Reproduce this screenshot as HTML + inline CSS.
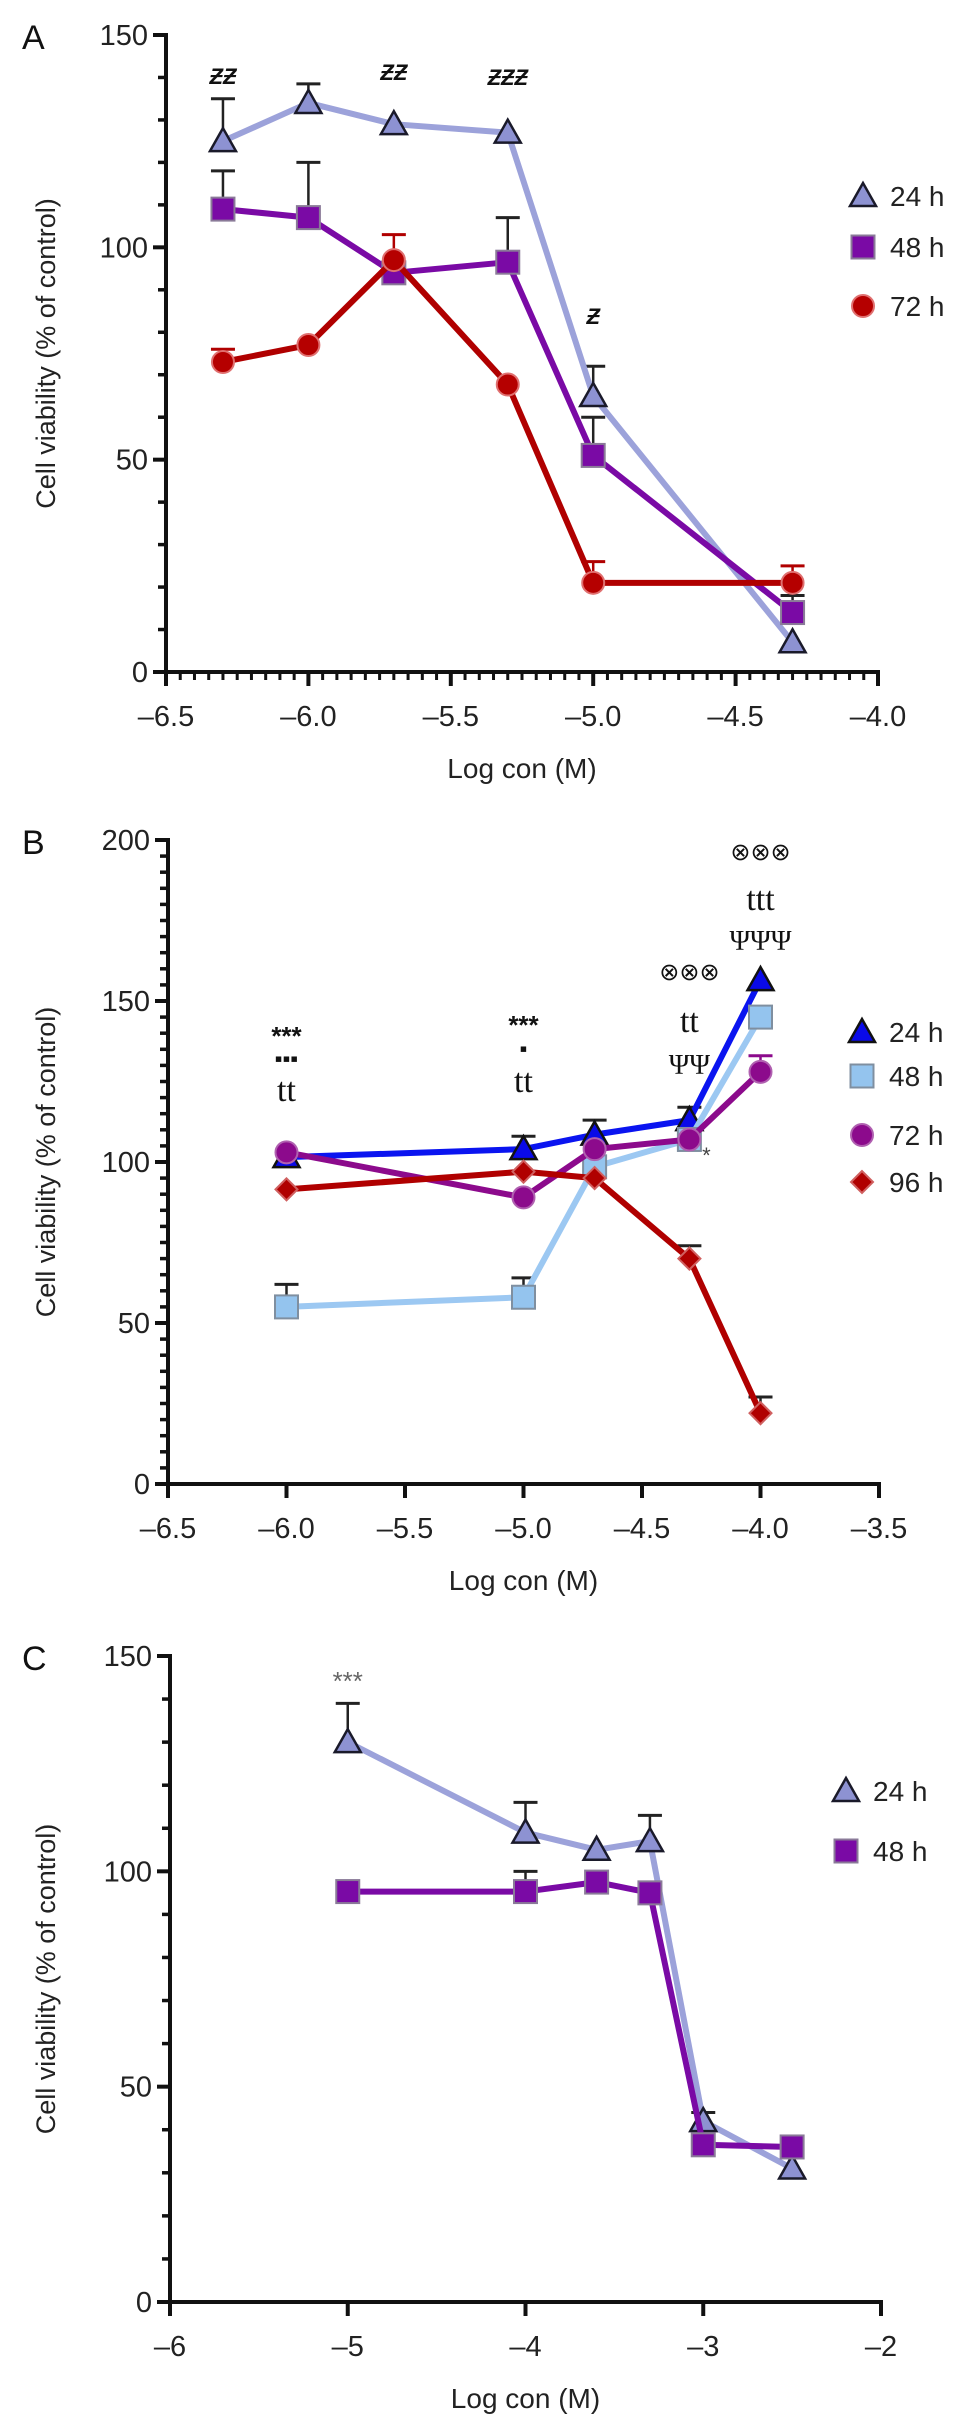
<!DOCTYPE html>
<html><head><meta charset="utf-8"><style>
html,body{margin:0;padding:0;background:#fff;}
svg{display:block;font-family:"Liberation Sans",sans-serif;}
</style></head><body>
<svg id="fig" width="969" height="2427" viewBox="0 0 969 2427" xmlns="http://www.w3.org/2000/svg"></svg>
<script>
// Panel A data
const aX = [-6.3, -6.0, -5.7, -5.3, -5.0, -4.3];
const a24 = [125, 134, 129, 127, 65, 7];
const a24err = [135, 138.5, null, null, 72, null];
const a48 = [109, 107, 94, 96.5, 51, 14];
const a48err = [118, 120, null, 107, 60, 18];
const a72 = [73, 77, 97, 67.7, 21, 21];
const a72err = [76, null, 103, null, 26, 25];
const aXTicks = ["–6.5", "–6.0", "–5.5", "–5.0", "–4.5", "–4.0"];
const aXTickVals = [-6.5, -6.0, -5.5, -5.0, -4.5, -4.0];
const aYTicks = [0, 50, 100, 150];
// Panel B data
const bX = [-6.0, -5.0, -4.7, -4.3, -4.0];
const b24 = [101.5, 104, 108.5, 113, 156.5];
const b24err = [null, 108, 113, 117, null];
const b48 = [55, 58, 98.5, 107, 145];
const b48err = [62, 64, null, null, null];
const b72 = [103, 89, 104, 107, 128];
const b72err = [null, null, null, null, 133];
const b96 = [91.5, 97, 95, 70, 22];
const b96err = [null, null, null, 74, 27];
const bXTicks = ["–6.5", "–6.0", "–5.5", "–5.0", "–4.5", "–4.0", "–3.5"];
const bXTickVals = [-6.5, -6.0, -5.5, -5.0, -4.5, -4.0, -3.5];
const bYTicks = [0, 50, 100, 150, 200];
// Panel C data
const cX = [-5, -4, -3.6, -3.3, -3, -2.5];
const c24 = [130, 109, 105, 107, 42, 31];
const c24err = [139, 116, null, 113, 44, null];
const c48 = [95.3, 95.3, 97.5, 95, 36.5, 36];
const c48err = [null, 100, null, null, null, 38];
const cXTicks = ["–6", "–5", "–4", "–3", "–2"];
const cXTickVals = [-6, -5, -4, -3, -2];
const cYTicks = [0, 50, 100, 150];

const NS = "http://www.w3.org/2000/svg";
const svg = document.getElementById("fig");
function el(tag, attrs, parent, text) {
  const e = document.createElementNS(NS, tag);
  for (const k in attrs) e.setAttribute(k, attrs[k]);
  if (text !== undefined) e.textContent = text;
  (parent || svg).appendChild(e);
  return e;
}

function panel(cfg) {
  const g = el("g", {});
  
  
  const sx = v => cfg.px0 + (v - cfg.xmin) / (cfg.xmax - cfg.xmin) * (cfg.px1 - cfg.px0);
  const sy = v => cfg.py0 - (v - 0) / cfg.ymax * (cfg.py0 - cfg.py1);
  // panel letter
  const L = el("text", {x: 22, y: cfg.py1 + 14, "font-size": 34, fill: "#111"}, g, cfg.letter);
  
  
  // y axis
  const ya = el("g", {}, g);
  
  
  el("line", {x1: cfg.px0, y1: cfg.py1 - 2, x2: cfg.px0, y2: cfg.py0, stroke: "#111", "stroke-width": 4}, ya);
  for (let v = 0; v <= cfg.ymax + 0.001; v += cfg.yminor) {
    const major = cfg.yTicks.indexOf(v) >= 0;
    el("line", {x1: cfg.px0 - (major ? 13 : 8), y1: sy(v), x2: cfg.px0, y2: sy(v), stroke: "#111", "stroke-width": major ? 4 : 3.5}, ya);
  }
  cfg.yTicks.forEach(v => {
    const t = el("text", {x: cfg.px0 - 18, y: sy(v) + 10, "font-size": 29, "text-anchor": "end", fill: "#222"}, ya, String(v));
    
    
  });
  const yt = el("text", {x: 0, y: 0, "font-size": 27, "text-anchor": "middle", fill: "#222",
    transform: `translate(${cfg.titleX},${(cfg.py0 + cfg.py1) / 2}) rotate(-90)`}, g, "Cell viability (% of control)");
  
  
  // x axis
  const xa = el("g", {}, g);
  
  
  el("line", {x1: cfg.px0 - 13, y1: cfg.py0, x2: cfg.px1 + 2, y2: cfg.py0, stroke: "#111", "stroke-width": 4}, xa);
  if (cfg.xminor) {
    const n = Math.round((cfg.xmax - cfg.xmin) / cfg.xminor);
    for (let i = 0; i <= n; i++) {
      const v = cfg.xmin + i * cfg.xminor;
      el("line", {x1: sx(v), y1: cfg.py0, x2: sx(v), y2: cfg.py0 + 8, stroke: "#111", "stroke-width": 3}, xa);
    }
  }
  cfg.xTickVals.forEach((v, i) => {
    el("line", {x1: sx(v), y1: cfg.py0, x2: sx(v), y2: cfg.py0 + 14, stroke: "#111", "stroke-width": 4}, xa);
    const t = el("text", {x: sx(v), y: cfg.py0 + 54, "font-size": 29, "text-anchor": "middle", fill: "#222"}, xa, cfg.xTicks[i]);
    
    
  });
  const xt = el("text", {x: (cfg.px0 + cfg.px1) / 2, y: cfg.py0 + 106, "font-size": 28, "text-anchor": "middle", fill: "#222"}, g, "Log con (M)");
  
  
  // series
  cfg.series.forEach(s => {
    const sg = el("g", {}, g);
    
    
    s.err.forEach((e, i) => {
      if (e === null) return;
      const x = sx(cfg.x[i]);
      el("line", {x1: x, y1: sy(s.vals[i]), x2: x, y2: sy(e), stroke: s.errColor, "stroke-width": 2.5}, sg);
      el("line", {x1: x - 12, y1: sy(e), x2: x + 12, y2: sy(e), stroke: s.errColor, "stroke-width": 3}, sg);
    });
    const pts = cfg.x.map((v, i) => sx(v) + "," + sy(s.vals[i])).join(" ");
    const pl = el("polyline", {points: pts, fill: "none", stroke: s.line, "stroke-width": 6, "stroke-linejoin": "round"}, sg);
    
    
    cfg.x.forEach((v, i) => {
      const m = marker(s, sx(v), sy(s.vals[i]), sg);
      
      
    });
  });
  // legend
  const lg = el("g", {}, g);
  
  
  cfg.series.forEach((s, i) => {
    const ly = cfg.legendY[i];
    const e = el("g", {}, lg);
    
    
    marker(s, cfg.legendX, ly, e);
    el("text", {x: cfg.legendX + 27, y: ly + 10, "font-size": 28, fill: "#222"}, e, s.label);
  });
  // annotations
  (cfg.notes || []).forEach(n => {
    const t = el("text", {x: sx(n.x) + (n.dx || 0), y: n.y, "font-size": n.size || 22, "text-anchor": "middle",
      fill: n.color || "#111", "font-weight": n.bold ? "bold" : "normal", "font-style": n.italic ? "italic" : "normal",
      "font-family": n.serif ? '"Liberation Serif", serif' : '"Liberation Sans", sans-serif'}, g, n.t);
    
    
  });
}

function marker(s, x, y, parent) {
  const r = 12;
  if (s.shape === "tri") return el("polygon", {points: `${x},${y - r - 1} ${x - r - 1},${y + r - 2} ${x + r + 1},${y + r - 2}`, fill: s.fill, stroke: s.stroke, "stroke-width": 2.5}, parent);
  if (s.shape === "sq") return el("rect", {x: x - 11.5, y: y - 11.5, width: 23, height: 23, fill: s.fill, stroke: s.stroke, "stroke-width": 2}, parent);
  if (s.shape === "dia") return el("polygon", {points: `${x},${y - 11} ${x - 11},${y} ${x},${y + 11} ${x + 11},${y}`, fill: s.fill, stroke: s.stroke, "stroke-width": 2}, parent);
  return el("circle", {cx: x, cy: y, r: 11, fill: s.fill, stroke: s.stroke, "stroke-width": 2}, parent);
}

const S24 = {label: "24 h", shape: "tri", fill: "#8d92d2", stroke: "#1a1a2a", line: "#9ca2da", errColor: "#222"};
const S48 = {label: "48 h", shape: "sq", fill: "#7a0aa5", stroke: "#8a7a98", line: "#7a0aa5", errColor: "#222"};
const S72 = {label: "72 h", shape: "circ", fill: "#b50000", stroke: "#e07070", line: "#b00000", errColor: "#b00000"};

panel({name: "panel-a", letter: "A", xmin: -6.5, xmax: -4.0, px0: 166, px1: 878, py0: 672, py1: 35, ymax: 150, yminor: 10,
  xminor: 0.05, titleX: 55, yTicks: aYTicks, xTicks: aXTicks, xTickVals: aXTickVals, x: aX,
  series: [Object.assign({}, S24, {vals: a24, err: a24err}), Object.assign({}, S48, {vals: a48, err: a48err}), Object.assign({}, S72, {vals: a72, err: a72err})],
  legendX: 863, legendY: [196, 247, 306],
  notes: [{x: -6.3, y: 84, t: "ƵƵ", italic: true, bold: true}, {x: -5.7, y: 80, t: "ƵƵ", italic: true, bold: true},
    {x: -5.3, y: 85, t: "ƵƵƵ", italic: true, bold: true}, {x: -5.0, y: 324, t: "Ƶ", italic: true, bold: true}]
});

panel({name: "panel-b", letter: "B", xmin: -6.5, xmax: -3.5, px0: 168, px1: 879, py0: 1484, py1: 840, ymax: 200, yminor: 5,
  xminor: null, titleX: 55, yTicks: bYTicks, xTicks: bXTicks, xTickVals: bXTickVals, x: bX,
  series: [
    {label: "24 h", shape: "tri", fill: "#0a0ae8", stroke: "#111", line: "#0a14f0", errColor: "#222", vals: b24, err: b24err},
    {label: "48 h", shape: "sq", fill: "#94c4ee", stroke: "#7f8fa0", line: "#9cc8f2", errColor: "#222", vals: b48, err: b48err},
    {label: "72 h", shape: "circ", fill: "#8c0a8c", stroke: "#b060b0", line: "#8c0a8c", errColor: "#8c0a8c", vals: b72, err: b72err},
    {label: "96 h", shape: "dia", fill: "#b00000", stroke: "#d06060", line: "#b00000", errColor: "#222", vals: b96, err: b96err}],
  legendX: 862, legendY: [1032, 1076, 1135, 1182],
  notes: [{x: -6.0, y: 1045, t: "***", size: 26, bold: true}, {x: -6.0, y: 1066, t: "▪▪▪", size: 22},
    {x: -6.0, y: 1101, t: "tt", size: 34, serif: true},
    {x: -5.0, y: 1034, t: "***", size: 26, bold: true}, {x: -5.0, y: 1056, t: "▪", size: 22},
    {x: -5.0, y: 1092, t: "tt", size: 34, serif: true},
    {x: -4.3, y: 980, t: "⊗⊗⊗", size: 24}, {x: -4.3, y: 1032, t: "tt", size: 34, serif: true},
    {x: -4.3, y: 1074, t: "ΨΨ", size: 28, serif: true},
    {x: -4.0, y: 860, t: "⊗⊗⊗", size: 24}, {x: -4.0, y: 910, t: "ttt", size: 34, serif: true},
    {x: -4.0, y: 950, t: "ΨΨΨ", size: 28, serif: true},
    {x: -4.3, dx: 17, y: 1163, t: "*", size: 22, color: "#444"}]
});

panel({name: "panel-c", letter: "C", xmin: -6, xmax: -2, px0: 170, px1: 881, py0: 2302, py1: 1656, ymax: 150, yminor: 10,
  xminor: null, titleX: 55, yTicks: cYTicks, xTicks: cXTicks, xTickVals: cXTickVals, x: cX,
  series: [Object.assign({}, S24, {vals: c24, err: c24err}), Object.assign({}, S48, {vals: c48, err: c48err})],
  legendX: 846, legendY: [1791, 1851],
  notes: [{x: -5, y: 1690, t: "***", size: 26, color: "#666"}]
});
</script>
</body></html>
